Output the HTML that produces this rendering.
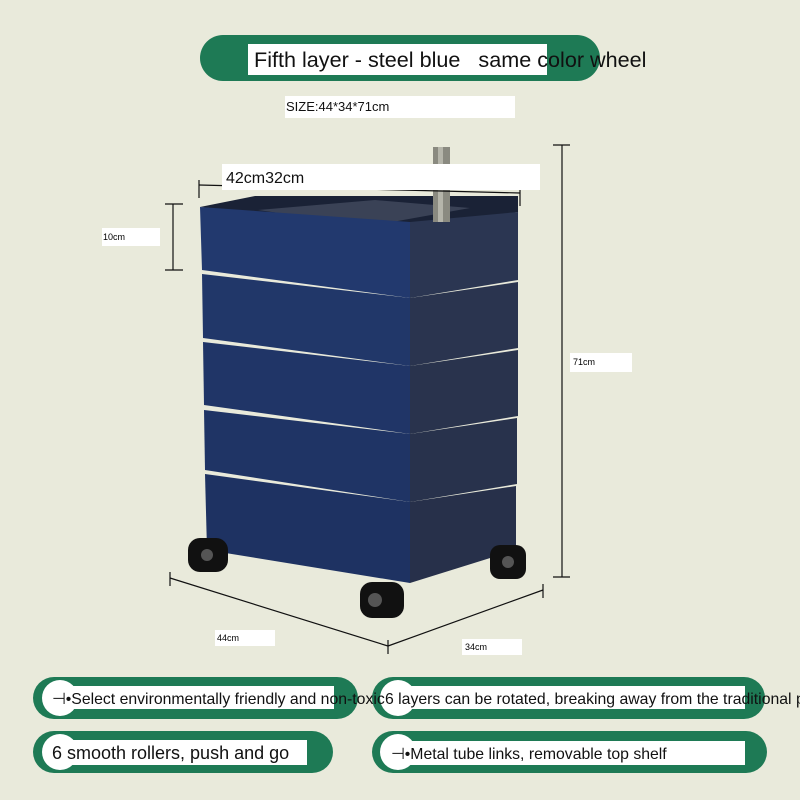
<!DOCTYPE html><html><head><style>body{margin:0;background:#e9eadb}svg{display:block}text{font-family:"Liberation Sans",sans-serif;white-space:pre}</style></head><body>
<svg width="800" height="800" viewBox="0 0 800 800">
<rect width="800" height="800" fill="#e9eadb"/>
<rect x="200" y="35" width="400" height="46" rx="23" fill="#1e7a55"/>
<rect x="248" y="44" width="299" height="31" fill="#fff"/>
<text x="254" y="67" font-size="21.6" fill="#111" xml:space="preserve">Fifth layer - steel blue   same color wheel</text>
<rect x="285" y="96" width="230" height="22" fill="#fff"/>
<text x="286" y="111" font-size="13" fill="#111">SIZE:44*34*71cm</text>
<!-- drawers -->
<g>
<polygon points="200,207 255,196 518,196 518,212 410,230" fill="#1a2236"/>
<polygon points="258,210 375,200 470,208 370,226" fill="#3a4256"/>
<polygon points="200,207 410,222 410,298 202,270" fill="#22396e"/>
<polygon points="410,222 518,212 518,280 410,298" fill="#2b3652"/>
<polygon points="202,274 410,298 410,366 203,338" fill="#213769"/>
<polygon points="410,298 518,282 518,348 410,366" fill="#2a344f"/>
<polygon points="203,342 410,366 410,434 204,405" fill="#203567"/>
<polygon points="410,366 518,350 518,416 410,434" fill="#29334d"/>
<polygon points="204,410 410,434 410,502 205,470" fill="#1f3465"/>
<polygon points="410,434 517,418 517,484 410,502" fill="#28324c"/>
<polygon points="205,474 410,502 410,583 207,550" fill="#1e3262"/>
<polygon points="410,502 516,486 516,550 410,583" fill="#27304a"/>
</g>
<!-- pole -->
<rect x="433" y="147" width="17" height="75" fill="#8a8a80"/>
<rect x="438" y="147" width="5" height="75" fill="#b5b5aa"/>
<g fill="#111"><rect x="188" y="538" width="40" height="34" rx="12"/><rect x="360" y="582" width="44" height="36" rx="12"/><rect x="490" y="545" width="36" height="34" rx="10"/></g>
<g fill="#555"><circle cx="207" cy="555" r="6"/><circle cx="375" cy="600" r="7"/><circle cx="508" cy="562" r="6"/></g>
<!-- dims -->
<g stroke="#111" stroke-width="1.2" fill="none">
<line x1="199" y1="185" x2="520" y2="193"/><line x1="199" y1="180" x2="199" y2="198"/><line x1="520" y1="186" x2="520" y2="206"/>
<line x1="173" y1="204" x2="173" y2="270"/><line x1="165" y1="204" x2="183" y2="204"/><line x1="165" y1="270" x2="183" y2="270"/>
<line x1="562" y1="145" x2="562" y2="577"/><line x1="553" y1="145" x2="570" y2="145"/><line x1="553" y1="577" x2="570" y2="577"/>
<line x1="170" y1="578" x2="388" y2="646"/><line x1="388" y1="646" x2="543" y2="590"/><line x1="170" y1="572" x2="170" y2="586"/><line x1="388" y1="640" x2="388" y2="654"/><line x1="543" y1="584" x2="543" y2="598"/>
</g>
<rect x="222" y="164" width="318" height="26" fill="#fff"/>
<text x="226" y="183" font-size="16" fill="#111">42cm32cm</text>
<rect x="102" y="228" width="58" height="18" fill="#fff"/><text x="103" y="240" font-size="9">10cm</text>
<rect x="570" y="353" width="62" height="19" fill="#fff"/><text x="573" y="365" font-size="9">71cm</text>
<rect x="215" y="630" width="60" height="16" fill="#fff"/><text x="217" y="641" font-size="9">44cm</text>
<rect x="462" y="639" width="60" height="16" fill="#fff"/><text x="465" y="650" font-size="9">34cm</text>
<!-- bottom pills -->
<g fill="#1e7a55">
<rect x="33" y="677" width="325" height="42" rx="21"/><rect x="372" y="677" width="393" height="42" rx="21"/>
<rect x="33" y="731" width="300" height="42" rx="21"/><rect x="372" y="731" width="395" height="42" rx="21"/>
</g>
<g fill="#fff">
<circle cx="60" cy="698" r="18"/><rect x="64" y="686" width="270" height="23"/>
<circle cx="398" cy="698" r="18"/><rect x="395" y="686" width="350" height="23"/>
<circle cx="60" cy="752" r="18"/><rect x="52" y="740" width="255" height="25"/>
<circle cx="398" cy="752" r="18"/><rect x="395" y="741" width="350" height="24"/>
</g>
<text x="52" y="704" font-size="15.8" fill="#111">⊣•Select environmentally friendly and non-toxic</text>
<text x="385" y="704" font-size="15.8" fill="#111">6 layers can be rotated, breaking away from the traditional p</text>
<text x="52" y="759" font-size="18" fill="#111">6 smooth rollers, push and go</text>
<text x="391" y="759" font-size="15.8" fill="#111">⊣•Metal tube links, removable top shelf</text>
</svg></body></html>
